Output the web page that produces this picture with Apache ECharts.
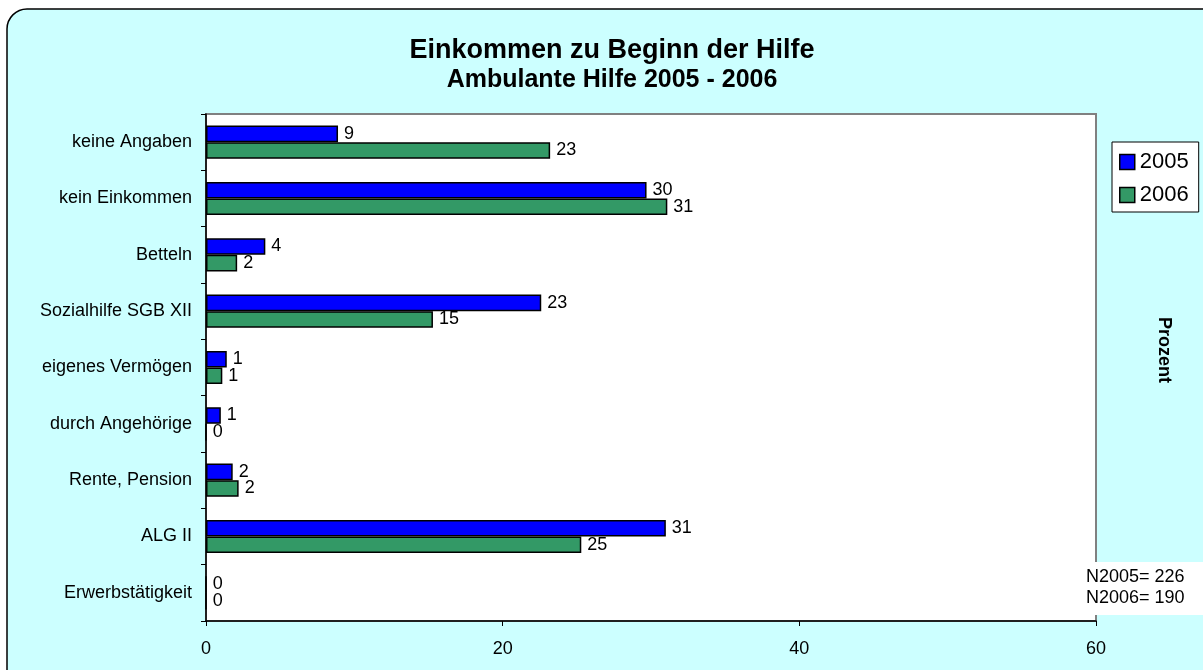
<!DOCTYPE html>
<html>
<head>
<meta charset="utf-8">
<title>Einkommen zu Beginn der Hilfe</title>
<script src="https://cdn.jsdelivr.net/npm/echarts@6/dist/echarts.min.js"></script>
<style>
  html, body { margin: 0; padding: 0; background: #fff; }
  #chart { width: 1203px; height: 670px; }
</style>
</head>
<body>
<div id="chart"></div>
<script>
// Kategorien von oben nach unten
const categories = [
  'keine Angaben',
  'kein Einkommen',
  'Betteln',
  'Sozialhilfe SGB XII',
  'eigenes Vermögen',
  'durch Angehörige',
  'Rente, Pension',
  'ALG II',
  'Erwerbstätigkeit'
]
// Prozentwerte, aus dem Bild geschätzt
const values2005 = [8.9, 29.7, 4.0, 22.6, 1.4, 1.0, 1.8, 31.0, 0]
const values2006 = [23.2, 31.1, 2.1, 15.3, 1.1, 0, 2.2, 25.3, 0]
const seriesNames = ['2005', '2006']
const xTicks = { min: 0, max: 60, interval: 20 }
const notes = ['N2005= 226', 'N2006= 190']

const font = "'Liberation Sans', Arial, sans-serif"

const chart = echarts.init(document.getElementById('chart'))

function barSeries(name, data, color) {
  return {
    name: name,
    type: 'bar',
    data: data,
    barGap: '0%',
    barCategoryGap: '41%',
    itemStyle: { color: color, borderColor: '#000', borderWidth: 1.5 },
    label: {
      show: true,
      position: 'right',
      distance: 6,
      color: '#000',
      fontFamily: font,
      fontSize: 18,
      formatter: p => Math.round(p.value)
    }
  }
}

chart.setOption({
  animation: false,
  textStyle: { fontFamily: font },
  title: [
    {
      text: 'Einkommen zu Beginn der Hilfe',
      left: 607,
      top: 32,
      textAlign: 'center',
      textStyle: { fontFamily: font, fontSize: 27, fontWeight: 'bold', color: '#000' }
    },
    {
      text: 'Ambulante Hilfe 2005 - 2006',
      left: 607,
      top: 63,
      textAlign: 'center',
      textStyle: { fontFamily: font, fontSize: 25, fontWeight: 'bold', color: '#000' }
    }
  ],
  legend: {
    orient: 'vertical',
    left: 1112,
    top: 142,
    padding: [9, 10, 6, 7],
    itemGap: 11,
    itemWidth: 15,
    itemHeight: 15,
    icon: 'rect',
    backgroundColor: '#fff',
    borderColor: '#000',
    borderWidth: 1,
    borderRadius: 0,
    itemStyle: { borderColor: '#000', borderWidth: 1.5 },
    textStyle: { fontFamily: font, fontSize: 22, color: '#000' },
    data: seriesNames
  },
  grid: {
    left: 206,
    right: 107,
    top: 114,
    bottom: 49,
    show: true,
    backgroundColor: '#fff',
    borderColor: '#808080',
    borderWidth: 2
  },
  xAxis: {
    type: 'value',
    min: xTicks.min,
    max: xTicks.max,
    interval: xTicks.interval,
    axisLine: { show: true, lineStyle: { color: '#000', width: 1.5 } },
    axisTick: { show: true, length: 5, lineStyle: { color: '#000' } },
    splitLine: { show: false },
    axisLabel: { margin: 19, color: '#000', fontFamily: font, fontSize: 18 }
  },
  yAxis: {
    type: 'category',
    inverse: true,
    data: categories,
    axisLine: { show: true, lineStyle: { color: '#000', width: 1.5 } },
    axisTick: { show: true, length: 5, lineStyle: { color: '#000' } },
    axisLabel: { margin: 14, color: '#000', fontFamily: font, fontSize: 18 }
  },
  series: [
    barSeries(seriesNames[0], values2005, '#0000FF'),
    barSeries(seriesNames[1], values2006, '#339966')
  ],
  graphic: [
    // abgerundeter Rahmen
    {
      type: 'rect',
      z: -10,
      silent: true,
      shape: { x: 7, y: 9, width: 1220, height: 690, r: 20 },
      style: { fill: '#CCFFFF', stroke: '#000', lineWidth: 1.5 }
    },
    {
      type: 'text',
      x: 1164,
      y: 350,
      rotation: -Math.PI / 2,
      style: {
        text: 'Prozent',
        fill: '#000',
        font: 'bold 18px ' + font,
        align: 'center',
        verticalAlign: 'middle'
      }
    },
    {
      type: 'rect',
      z: 10,
      shape: { x: 1080, y: 562, width: 130, height: 53 },
      style: { fill: '#fff' }
    },
    {
      type: 'text',
      z: 11,
      x: 1086,
      y: 567,
      style: {
        text: notes.join('\n'),
        fill: '#000',
        font: '18px ' + font,
        lineHeight: 21
      }
    }
  ]
})
</script>
</body>
</html>
